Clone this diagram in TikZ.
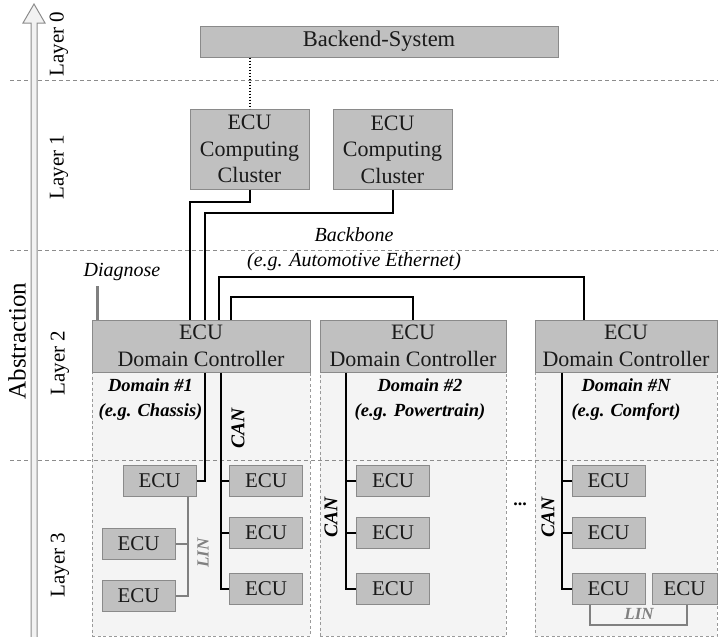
\documentclass[tikz,border=0pt]{standalone}
\usepackage{fontspec}
\setmainfont{Liberation Serif}
\usetikzlibrary{calc}
\definecolor{boxfill}{HTML}{C0C0C0}
\definecolor{boxline}{HTML}{8A8A8A}
\definecolor{panelfill}{HTML}{F4F4F4}
\definecolor{panelline}{HTML}{9A9A9A}
\definecolor{sepline}{HTML}{8C8C8C}
\definecolor{arrowfill}{HTML}{F2F2F2}
\definecolor{arrowline}{HTML}{8C8C8C}
\definecolor{linline}{HTML}{808080}
\definecolor{ecutext}{HTML}{1A1A1A}
\begin{document}
\begin{tikzpicture}[x=1pt,y=-1pt,
  box/.style={draw=boxline, fill=boxfill, line width=1pt, inner sep=0pt, align=center, text=ecutext, font=\fontsize{22}{26.5}\selectfont},
  ecu/.style={box, minimum width=73pt, minimum height=31pt, font=\fontsize{21}{25}\selectfont},
  dcbox/.style={box, minimum height=52pt},
  panel/.style={fill=panelfill, draw=panelline, line width=0.8pt, dash pattern=on 3pt off 2.5pt, inner sep=0pt},
  sep/.style={draw=sepline, line width=0.8pt, dash pattern=on 4pt off 3pt},
  conn/.style={draw=black, line width=2pt},
  linconn/.style={draw=linline, line width=2pt},
  diagconn/.style={draw=linline, line width=3pt},
  layerlbl/.style={rotate=90, font=\fontsize{21}{25}\selectfont, inner sep=0pt},
  itlbl/.style={font=\fontsize{20}{25}\selectfont\itshape, align=center, inner sep=0pt},
  domlbl/.style={font=\fontsize{18.5}{25}\selectfont\bfseries\itshape, align=center, inner sep=0pt},
  buslbl/.style={rotate=90, font=\fontsize{19.5}{22}\selectfont\bfseries\itshape, inner sep=0pt},
  linlbl/.style={font=\fontsize{17}{20}\selectfont\bfseries\itshape, text=linline, inner sep=0pt}]
\useasboundingbox (0,0) rectangle (718,637);

% domain panels
\node[panel, minimum width=218pt, minimum height=316pt] (p1) at (201,478) {};
\node[panel, minimum width=186pt, minimum height=316pt] (p2) at (413,478) {};
\node[panel, minimum width=182pt, minimum height=316pt] (pN) at (626,478) {};

% layer separators
\draw[sep] (10,80) -- (718,80);
\draw[sep] (10,250) -- (718,250);
\draw[sep] (10,460) -- (718,460);

% abstraction arrow
\filldraw[fill=arrowfill, draw=arrowline, line width=1pt]
  (31,640) -- (31,23) -- (23,23) -- (34,4) -- (45,23) -- (37,23) -- (37,640);
\node[rotate=90, font=\fontsize{25}{30}\selectfont, inner sep=0pt] (abs) at (17,341) {Abstraction};

% layer labels
\node[layerlbl] (l0) at (59,44) {Layer 0};
\node[layerlbl] (l1) at (59,167) {Layer 1};
\node[layerlbl] (l2) at (60,363) {Layer 2};
\node[layerlbl] (l3) at (60,565) {Layer 3};

% layer 0 and 1
\node[box, minimum width=358pt, minimum height=31pt, font=\fontsize{22.5}{26}\selectfont] (be) at (379,41.5) {Backend-System};
\node[box, minimum width=119pt, minimum height=80pt] (c1) at (249.5,149) {ECU\\Computing\\Cluster};
\node[box, minimum width=119pt, minimum height=80pt] (c2) at (392.5,149.5) {ECU\\Computing\\Cluster};

% domain controllers
\node[dcbox, minimum width=218pt] (dc1) at (201,346) {ECU\\Domain Controller};
\node[dcbox, minimum width=186pt] (dc2) at (413,346) {ECU\\Domain Controller};
\node[dcbox, minimum width=182pt] (dcN) at (626,346) {ECU\\Domain Controller};

% labels
\node[itlbl] (bb) at (354,249.5) {Backbone\\(e.g. Automotive Ethernet)};
\node[itlbl] (diagt) at (122,272) {Diagnose};
\node[domlbl] (d1) at (150.5,399.5) {Domain \#1\\(e.g. Chassis)};
\node[domlbl] (d2) at (420,399.5) {Domain \#2\\(e.g. Powertrain)};
\node[domlbl] (dN) at (626,399.5) {Domain \#N\\(e.g. Comfort)};

% layer 3 ECUs, domain 1
\node[ecu] (e11) at (159.5,480.5) {ECU};
\node[ecu] (e12) at (266,480.5) {ECU};
\node[ecu] (e13) at (266,532.5) {ECU};
\node[ecu] (e14) at (266,588.5) {ECU};
\node[ecu] (e15) at (138.5,543.5) {ECU};
\node[ecu] (e16) at (138.5,595.5) {ECU};
% domain 2
\node[ecu] (e21) at (393,480.5) {ECU};
\node[ecu] (e22) at (393,532.5) {ECU};
\node[ecu] (e23) at (393,588.5) {ECU};
% domain N
\node[ecu] (eN1) at (608.5,480.5) {ECU};
\node[ecu] (eN2) at (608.5,532.5) {ECU};
\node[ecu] (eN3) at (608.5,588.5) {ECU};
\node[ecu, minimum width=65pt] (eN4) at (684.5,588.5) {ECU};

% bus labels
\node[buslbl] (can1) at (238,428) {CAN};
\node[buslbl] (can2) at (331,517) {CAN};
\node[buslbl] (canN) at (548,517) {CAN};
\node[linlbl, rotate=90] (lin1l) at (203,553) {LIN};
\node[linlbl] (linNl) at (639,614) {LIN};
\node[font=\fontsize{18}{20}\selectfont\bfseries, inner sep=0pt] (dots) at (520,504) {...};

% coordinates for routing
\coordinate (k1) at (190,202);
\coordinate (k2) at (205,213);
\coordinate (k3) at (219,277);
\coordinate (k3b) at (584,277);
\coordinate (k4) at (231,297);
\coordinate (dg) at (97,286);
\coordinate (x1) at (221,0);
\coordinate (x2) at (346,0);
\coordinate (xN) at (562,0);
\coordinate (xl) at (188,0);
\coordinate (lb1) at (590,625);
\coordinate (lb2) at (687,625);

% connectors layer 0-1
\draw[line width=2pt, dash pattern=on 1.6pt off 1.4pt, black] (be.south -| c1.north) -- (c1.north);
\draw[conn] (c1.south) |- (k1) -- (k1 |- dc1.north);
\draw[conn] (c2.south) |- (k2) -- (k2 |- dc1.north);
% backbone
\draw[conn] (k3 |- dc1.north) -- (k3) -- (k3b) -- (k3b |- dcN.north);
\draw[conn] (k4 |- dc1.north) -- (k4) -| (dc2.north);
% diagnose
\draw[diagconn] (dg) -- (dg |- dc1.north);

% CAN domain 1
\draw[conn] (x1 |- dc1.south) |- (e14.west);
\draw[conn] (e12.west) -- (e12.west -| x1);
\draw[conn] (e13.west) -- (e13.west -| x1);
\draw[conn] (k2 |- dc1.south) |- (e11.east);
% LIN domain 1
\draw[linconn] (xl |- e11.south) |- (e16.east);
\draw[linconn] (e15.east) -- (e15.east -| xl);

% CAN domain 2
\draw[conn] (x2 |- dc2.south) |- (e23.west);
\draw[conn] (e21.west) -- (e21.west -| x2);
\draw[conn] (e22.west) -- (e22.west -| x2);

% CAN domain N
\draw[conn] (xN |- dcN.south) |- (eN3.west);
\draw[conn] (eN1.west) -- (eN1.west -| xN);
\draw[conn] (eN2.west) -- (eN2.west -| xN);
% LIN domain N
\draw[linconn] (lb1 |- eN3.south) -- (lb1) -- (lb2) -- (lb2 |- eN4.south);
\end{tikzpicture}
\end{document}
